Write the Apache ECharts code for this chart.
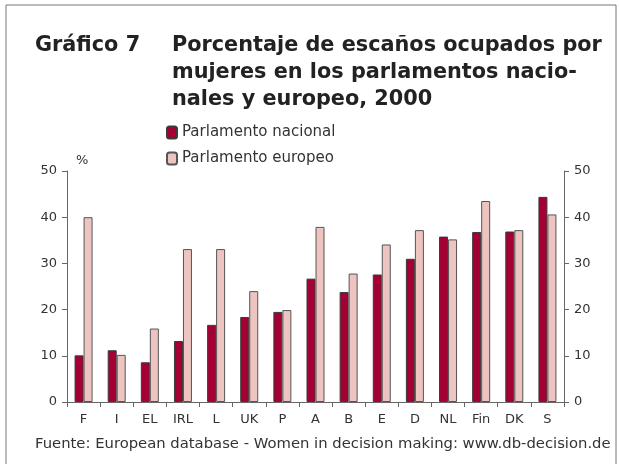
<!DOCTYPE html>
<html>
<head>
<meta charset="utf-8">
<script src="https://cdn.jsdelivr.net/npm/echarts@6/dist/echarts.min.js"></script>
<style>
  html, body { margin: 0; padding: 0; background: #fff; }
  #chart { width: 619px; height: 464px; }
</style>
</head>
<body>
<div id="chart"></div>
<script>
var paises = ['F', 'I', 'EL', 'IRL', 'L', 'UK', 'P', 'A', 'B', 'E', 'D', 'NL', 'Fin', 'DK', 'S'];
var nacional = [10.1, 11.2, 8.6, 13.2, 16.7, 18.4, 19.5, 26.7, 23.8, 27.6, 31.0, 35.8, 36.8, 36.9, 44.4];
var europeo = [40.0, 10.2, 15.9, 33.1, 33.1, 24.0, 19.9, 37.9, 27.8, 34.1, 37.2, 35.2, 43.5, 37.2, 40.6];
var tituloLineas = ['Porcentaje de escaños ocupados por', 'mujeres en los parlamentos nacio-', 'nales y europeo, 2000'];

var fuente = '"DejaVu Sans", sans-serif';
var chart = echarts.init(document.getElementById('chart'));

var graficos = [
    // marco exterior
    { type: 'rect', shape: { x: 6, y: 5, width: 610, height: 470 }, style: { fill: 'none', stroke: '#777', lineWidth: 1 }, silent: true },
    { type: 'text', left: 35, top: 35, style: { text: 'Gráfico 7', font: 'bold 20.8px ' + fuente, fill: '#222' } },
    { type: 'text', left: 76, top: 154, style: { text: '%', font: '13px ' + fuente, fill: '#333' } },
    { type: 'text', left: 35, top: 437, style: { text: 'Fuente: European database - Women in decision making: www.db-decision.de', font: '14.8px ' + fuente, fill: '#333' } }
];
tituloLineas.forEach(function (t, i) {
    graficos.push({ type: 'text', left: 172, top: 35 + i * 27, style: { text: t, font: 'bold 20.8px ' + fuente, fill: '#222' } });
});

var ejeY = {
    type: 'value', min: 0, max: 50, interval: 10,
    splitLine: { show: false },
    axisLine: { show: true, lineStyle: { color: '#666' } },
    axisTick: { show: true, length: 5, lineStyle: { color: '#666' } },
    axisLabel: { color: '#333', fontSize: 13, fontFamily: fuente, margin: 10 }
};

var option = {
    animation: false,
    textStyle: { fontFamily: fuente },
    graphic: graficos,
    legend: {
        orient: 'vertical',
        left: 161, top: 120,
        itemWidth: 10, itemHeight: 12, itemGap: 11,
        textStyle: { fontSize: 15, color: '#333', fontFamily: fuente },
        data: ['Parlamento nacional', 'Parlamento europeo']
    },
    grid: { left: 67, right: 55, top: 171, bottom: 62 },
    xAxis: {
        type: 'category', data: paises,
        axisLine: { lineStyle: { color: '#666' } },
        axisTick: { show: true, length: 5, lineStyle: { color: '#666' } },
        axisLabel: { color: '#333', fontSize: 13, fontFamily: fuente, margin: 11 }
    },
    yAxis: [
        Object.assign({}, ejeY, { position: 'left' }),
        Object.assign({}, ejeY, { position: 'right' })
    ],
    series: [
        {
            name: 'Parlamento nacional', type: 'bar', data: nacional,
            barWidth: 9, barGap: '0%',
            itemStyle: { color: '#a50034', borderColor: '#3a3a3a', borderWidth: 1 }
        },
        {
            name: 'Parlamento europeo', type: 'bar', data: europeo,
            barWidth: 9, barGap: '0%',
            itemStyle: { color: '#edc4bf', borderColor: '#555', borderWidth: 1 }
        }
    ]
};
chart.setOption(option);
</script>
</body>
</html>
